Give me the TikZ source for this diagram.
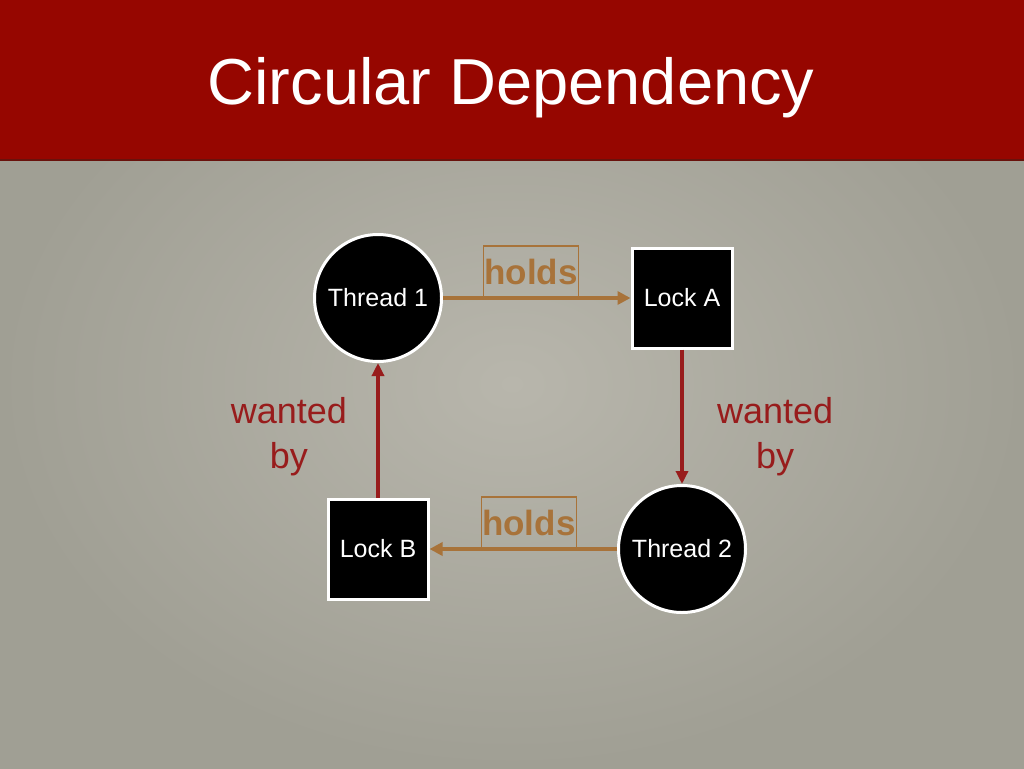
\documentclass[tikz,border=0pt]{standalone}
\usepackage{fontspec}
\setmainfont{Liberation Sans}
\usetikzlibrary{arrows.meta}

\definecolor{titlered}{RGB}{150,6,0}
\definecolor{titleedge}{RGB}{105,18,12}
\definecolor{slidelight}{RGB}{184,182,172}
\definecolor{slidedark}{RGB}{160,159,148}
\definecolor{holdsbrown}{RGB}{168,115,58}
\definecolor{wantred}{RGB}{152,28,28}

\tikzset{
  thread/.style={circle, draw=white, line width=3pt, fill=black, text=white,
    minimum size=127pt, inner sep=0pt, font=\fontsize{25}{30}\selectfont},
  lock/.style={rectangle, draw=white, line width=3pt, fill=black, text=white,
    minimum size=100pt, inner sep=0pt, font=\fontsize{25}{30}\selectfont},
  holdsarrow/.style={draw=holdsbrown, line width=4pt,
    -{Triangle[length=13pt,width=13pt]}},
  wantarrow/.style={draw=wantred, line width=3.5pt,
    -{Triangle[length=13pt,width=12pt]}},
  holdsbox/.style={draw=holdsbrown, line width=1.6pt, text=holdsbrown,
    font=\bfseries\fontsize{35}{40}\selectfont, minimum width=95pt,
    minimum height=51pt, inner sep=0pt, anchor=south},
  wantlabel/.style={text=wantred, align=center,
    font=\fontsize{36}{45}\selectfont}
}

\begin{document}
\begin{tikzpicture}[x=1pt,y=-1pt]

% Slide background
\useasboundingbox (0,0) rectangle (1024,768);
\shade[inner color=slidelight, outer color=slidedark] (0,0) rectangle (1024,768);

% Title bar
\fill[titlered] (0,0) rectangle (1024,160);
\draw[titleedge, line width=2pt] (0,160) -- (1024,160);
\node[anchor=base, text=white, font=\fontsize{65}{70}\selectfont]
  (title) at (511,104) {Circular Dependency};

% Threads and locks
\node[thread] (t1) at (378,298) {Thread 1};
\node[lock]   (la) at (682,298) {Lock A};
\node[thread] (t2) at (682,549) {Thread 2};
\node[lock]   (lb) at (378,549) {Lock B};

% Holds
\draw[holdsarrow] (t1) -- node[holdsbox, pos=0.47] {holds} (la);
\draw[holdsarrow] (t2) -- node[holdsbox, pos=0.47] {holds} (lb);

% Wanted by
\draw[wantarrow] (la) -- node[wantlabel, right=30pt, pos=0.65] {wanted\\by} (t2);
\draw[wantarrow] (lb) -- node[wantlabel, left=26pt, pos=0.45] {wanted\\by} (t1);

\end{tikzpicture}
\end{document}
